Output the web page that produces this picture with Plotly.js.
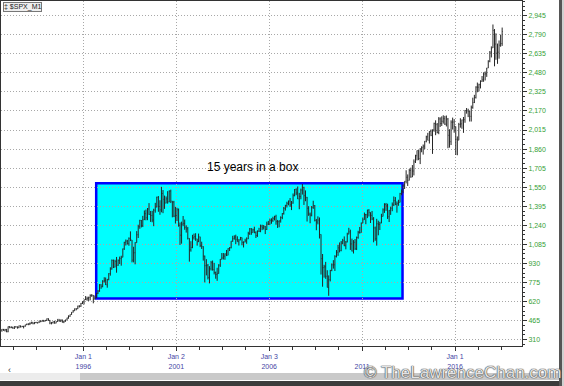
<!DOCTYPE html>
<html>
<head>
<meta charset="utf-8">
<script src="https://cdn.plot.ly/plotly-3.0.1.min.js"></script>
<style>html,body{margin:0;padding:0;background:#fff;}#chart{width:564px;height:386px;}</style>
</head>
<body>
<div id="chart"></div>
<script>
// Monthly S&P 500 bars, Aug 1991 .. Jul 2018
const startYear = 1991, startMonth = 8;
const openP = [
 388,395,388,392,375,
 417,409,413,404,415,415,408,424,414,418,419,431,
 436,439,443,452,440,450,451,448,464,459,468,462,
 467,482,467,446,451,457,444,458,476,463,472,454,
 459,470,487,501,515,533,545,562,562,584,582,605,
 616,636,640,646,654,669,671,640,652,687,705,757,
 741,786,791,757,801,848,885,954,900,947,915,955,
 970,980,1049,1102,1112,1091,1134,1121,957,1017,1099,1164,
 1229,1280,1238,1286,1335,1302,1373,1329,1320,1283,1363,1389,
 1469,1394,1366,1499,1452,1421,1455,1431,1518,1437,1429,1315,
 1320,1366,1240,1160,1250,1256,1224,1211,1134,1041,1060,1139,
 1148,1130,1107,1147,1077,1067,990,912,916,815,886,936,
 880,856,841,848,917,964,975,990,1008,996,1051,1058,
 1112,1131,1145,1126,1107,1121,1141,1102,1104,1115,1130,1174,
 1212,1181,1204,1181,1157,1192,1191,1234,1220,1229,1207,1250,
 1248,1280,1281,1295,1311,1270,1270,1277,1304,1336,1378,1401,
 1418,1438,1407,1421,1482,1531,1503,1455,1474,1527,1549,1481,
 1468,1379,1331,1323,1386,1400,1280,1267,1283,1166,969,896,
 903,826,735,798,873,919,919,987,1021,1057,1036,1096,
 1115,1074,1104,1169,1187,1089,1031,1102,1049,1141,1183,1181,
 1258,1286,1327,1326,1364,1345,1321,1292,1219,1131,1253,1247,
 1258,1312,1366,1409,1398,1310,1362,1379,1407,1441,1412,1416,
 1426,1498,1515,1569,1598,1631,1606,1686,1633,1682,1757,1806,
 1848,1783,1860,1872,1884,1924,1960,1931,2003,1972,2018,2068,
 2059,1995,2105,2068,2086,2107,2063,2104,1972,1920,2079,2080,
 2044,1940,1932,2060,2065,2097,2099,2174,2171,2168,2126,2199,
 2239,2279,2364,2363,2384,2412,2423,2470,2472,2519,2575,2648,
 2683,2824,2714,2641,2648,2705,2718
];
const highP = [
 396,397,398,398,418,
 421,418,414,420,419,418,425,425,423,423,432,441,
 443,450,456,453,455,455,451,464,464,470,469,471,
 483,483,471,453,458,464,459,477,476,474,473,465,
 473,489,508,515,534,552,564,565,587,590,609,622,
 636,665,660,660,679,681,673,670,691,714,762,761,
 794,818,816,804,851,899,963,962,960,983,963,986,
 993,1051,1106,1125,1122,1142,1191,1121,1066,1103,1193,1245,
 1285,1283,1317,1361,1368,1381,1421,1357,1358,1375,1423,1473,
 1478,1444,1553,1527,1482,1475,1518,1525,1530,1437,1439,1390,
 1383,1377,1263,1270,1316,1287,1240,1227,1135,1111,1163,1173,
 1176,1130,1173,1147,1107,1070,994,965,925,908,951,954,
 935,864,895,924,966,1015,1015,1012,1040,1054,1063,1112,
 1155,1159,1164,1151,1128,1146,1141,1109,1131,1142,1188,1218,
 1217,1213,1229,1192,1199,1220,1246,1245,1243,1234,1270,1276,
 1295,1297,1310,1318,1326,1284,1280,1313,1340,1389,1407,1432,
 1441,1462,1438,1499,1535,1541,1556,1504,1539,1576,1553,1524,
 1471,1396,1344,1397,1440,1405,1292,1313,1304,1167,1007,919,
 943,875,833,878,930,957,997,1039,1081,1101,1113,1130,
 1150,1113,1180,1220,1205,1132,1120,1129,1149,1196,1227,1263,
 1303,1344,1333,1367,1371,1346,1357,1307,1230,1293,1278,1269,
 1334,1378,1420,1422,1416,1364,1392,1426,1475,1470,1434,1448,
 1504,1531,1570,1598,1688,1654,1698,1709,1730,1776,1814,1849,
 1851,1868,1883,1897,1925,1969,1992,2005,2019,2019,2075,2094,
 2072,2120,2118,2126,2135,2130,2133,2113,2021,2094,2116,2104,
 2044,1963,2073,2111,2100,2121,2178,2194,2188,2170,2214,2278,
 2301,2371,2401,2392,2419,2454,2484,2491,2520,2582,2657,2695,
 2873,2836,2801,2718,2743,2791,2848
];
const lowP = [
 375,383,377,371,371,
 403,404,400,397,409,400,404,410,413,402,416,430,
 428,429,440,436,437,444,442,446,452,457,454,460,
 463,464,436,435,441,441,444,455,457,454,449,445,
 457,469,481,496,513,531,544,549,559,572,577,600,
 597,633,627,625,630,658,606,638,650,681,700,724,
 737,775,755,733,793,831,880,893,898,855,911,926,
 912,980,1040,1076,1084,1074,1112,939,939,923,1098,1137,
 1212,1223,1226,1283,1281,1282,1325,1268,1265,1233,1343,1386,
 1350,1326,1346,1339,1374,1419,1416,1428,1421,1305,1307,1255,
 1275,1229,1081,1091,1233,1204,1181,1125,945,1026,1054,1124,
 1114,1075,1104,1063,1048,953,776,833,800,768,873,872,
 841,806,789,847,902,963,962,960,990,996,1031,1053,
 1106,1124,1087,1107,1076,1119,1078,1060,1102,1090,1128,1162,
 1163,1181,1176,1137,1146,1188,1184,1201,1206,1169,1202,1244,
 1245,1253,1268,1280,1245,1219,1224,1262,1290,1327,1360,1385,
 1403,1390,1364,1416,1476,1485,1454,1371,1452,1490,1406,1436,
 1271,1317,1257,1313,1374,1272,1200,1248,1133,840,741,815,
 805,735,667,784,867,888,869,979,992,1020,1029,1086,
 1071,1045,1102,1167,1040,1028,1011,1040,1039,1131,1173,1181,
 1257,1285,1249,1299,1312,1259,1282,1102,1114,1075,1159,1202,
 1258,1312,1341,1358,1292,1267,1325,1355,1397,1404,1343,1399,
 1426,1485,1501,1536,1581,1560,1605,1627,1633,1646,1747,1768,
 1770,1738,1834,1815,1860,1915,1931,1905,1965,1821,2001,1973,
 1988,1981,2040,2048,2067,2056,2044,1867,1872,1893,2019,1993,
 1812,1810,1932,2034,2025,1992,2074,2148,2120,2084,2084,2188,
 2234,2271,2322,2329,2353,2406,2407,2418,2447,2519,2566,2605,
 2682,2533,2586,2553,2595,2692,2699
];
const closeP = [
 395,388,392,375,417,
 409,413,404,415,415,408,424,414,418,419,431,436,
 439,443,452,440,450,451,448,464,459,468,462,467,
 482,467,446,451,457,444,458,476,463,472,454,459,
 470,487,501,515,533,545,562,562,584,582,605,616,
 636,640,646,654,669,671,640,652,687,705,757,741,
 786,791,757,801,848,885,954,900,947,915,955,970,
 980,1049,1102,1112,1091,1134,1121,957,1017,1099,1164,1229,
 1280,1238,1286,1335,1302,1373,1329,1320,1283,1363,1389,1469,
 1394,1366,1499,1452,1421,1455,1431,1518,1437,1429,1315,1320,
 1366,1240,1160,1250,1256,1224,1211,1134,1041,1060,1139,1148,
 1130,1107,1147,1077,1067,990,912,916,815,886,936,880,
 856,841,848,917,964,975,990,1008,996,1051,1058,1112,
 1131,1145,1126,1107,1121,1141,1102,1104,1115,1130,1174,1212,
 1181,1204,1181,1157,1192,1191,1234,1220,1229,1207,1250,1248,
 1280,1281,1295,1311,1270,1270,1277,1304,1336,1378,1401,1418,
 1438,1407,1421,1482,1531,1503,1455,1474,1527,1549,1481,1468,
 1379,1331,1323,1386,1400,1280,1267,1283,1166,969,896,903,
 826,735,798,873,919,919,987,1021,1057,1036,1096,1115,
 1074,1104,1169,1187,1089,1031,1102,1049,1141,1183,1181,1258,
 1286,1327,1326,1364,1345,1321,1292,1219,1131,1253,1247,1258,
 1312,1366,1409,1398,1310,1362,1379,1407,1441,1412,1416,1426,
 1498,1515,1569,1598,1631,1606,1686,1633,1682,1757,1806,1848,
 1783,1860,1872,1884,1924,1960,1931,2003,1972,2018,2068,2059,
 1995,2105,2068,2086,2107,2063,2104,1972,1920,2079,2080,2044,
 1940,1932,2060,2065,2097,2099,2174,2171,2168,2126,2199,2239,
 2279,2364,2363,2384,2412,2423,2470,2472,2519,2575,2648,2674,
 2824,2714,2641,2648,2705,2718,2816
];
const yTickVals = [310,465,620,775,930,1085,1240,1395,1550,1705,1860,2015,2170,2325,2480,2635,2790,2945];
const xTickVals = ['1996-01-01','2001-01-01','2006-01-01','2011-01-01','2016-01-01'];
const xTickText = ['Jan 1<br>1996','Jan 2<br>2001','Jan 3<br>2006','\u00a0<br>2011','Jan 1<br>2016'];
const boxX = ['1996-09-10','2013-03-05'];
const boxY = [645, 1583];
const boxLabel = '15 years in a box';
const seriesName = '\u2021 $SPX_M1';
const watermark = '\u00a9 TheLawrenceChan.com';

// month-stamped dates (bars centred mid-month)
const dates = [];
for (let i = 0; i < closeP.length; i++) {
  const m0 = startMonth - 1 + i;
  const y = startYear + Math.floor(m0 / 12);
  const m = (m0 % 12) + 1;
  dates.push(y + '-' + String(m).padStart(2, '0') + '-15');
}

// pixel helpers for paper-referenced decorations (plot area: x 1..522, y 1..346)
const L = 1, R = 522, T = 1, B = 346;
const px = p => (p - L) / (R - L);
const py = p => (B - p) / (B - T);

const trace = {
  type: 'ohlc', x: dates, open: openP, high: highP, low: lowP, close: closeP,
  increasing: {line: {color: '#262626', width: 1}},
  decreasing: {line: {color: '#262626', width: 1}},
  tickwidth: 0.35, hoverinfo: 'skip', showlegend: false
};

const gridDash = '1px,2px';
const layout = {
  width: 564, height: 386,
  margin: {l: L, r: 564 - R, t: T, b: 386 - B, pad: 0},
  paper_bgcolor: '#ffffff', plot_bgcolor: '#ffffff',
  showlegend: false,
  font: {family: 'Liberation Sans, Arial, sans-serif'},
  xaxis: {
    type: 'date', range: ['1991-07-28', '2019-08-09'],
    rangeslider: {visible: false},
    tickmode: 'array', tickvals: xTickVals, ticktext: xTickText,
    ticks: 'outside', ticklen: 4, tickcolor: '#333', tickwidth: 1,
    showgrid: true, gridcolor: '#a8a8a8', griddash: gridDash, gridwidth: 1,
    showline: true, linecolor: '#333', linewidth: 1, mirror: true,
    zeroline: false,
    tickfont: {family: 'Liberation Sans, Arial, sans-serif', size: 7, color: '#4545a5'},
    minor: {dtick: 'M15', tick0: '1996-01-01', ticks: 'outside', ticklen: 3, tickcolor: '#333', showgrid: false},
    fixedrange: true
  },
  yaxis: {
    side: 'right', range: [259, 3064],
    tickmode: 'array', tickvals: yTickVals, tickformat: ',d',
    ticks: 'outside', ticklen: 4, tickcolor: '#333', tickwidth: 1,
    showgrid: true, gridcolor: '#a8a8a8', griddash: gridDash, gridwidth: 1,
    showline: true, linecolor: '#333', linewidth: 1, mirror: true,
    zeroline: false,
    tickfont: {family: 'Liberation Sans, Arial, sans-serif', size: 7, color: '#36a036'},
    minor: {dtick: 38.75, tick0: 310, ticks: 'outside', ticklen: 2, tickcolor: '#333', showgrid: false},
    fixedrange: true
  },
  shapes: [
    {type: 'rect', xref: 'x', yref: 'y', x0: boxX[0], x1: boxX[1], y0: boxY[0], y1: boxY[1],
     fillcolor: '#00ffff', line: {color: '#0000ff', width: 2.5}, layer: 'below'},
    // scrollbar
    {type: 'rect', xref: 'paper', yref: 'paper', x0: px(0), x1: px(80), y0: py(380), y1: py(373),
     fillcolor: '#ececec', line: {width: 0}, layer: 'below'},
    {type: 'rect', xref: 'paper', yref: 'paper', x0: px(80), x1: px(559), y0: py(380), y1: py(373),
     fillcolor: '#c9c9c9', line: {width: 0}, layer: 'below'},
    // window edges
    {type: 'rect', xref: 'paper', yref: 'paper', x0: px(0), x1: px(564), y0: py(386), y1: py(381),
     fillcolor: '#3c3c3c', line: {width: 0}, layer: 'below'},
    {type: 'rect', xref: 'paper', yref: 'paper', x0: px(559), x1: px(562), y0: py(386), y1: py(0),
     fillcolor: '#555555', line: {width: 0}, layer: 'below'},
    {type: 'rect', xref: 'paper', yref: 'paper', x0: px(562), x1: px(564), y0: py(386), y1: py(0),
     fillcolor: '#d0d0d0', line: {width: 0}, layer: 'below'}
  ],
  annotations: [
    {text: boxLabel, xref: 'x', yref: 'y', x: '2005-02-01', y: 1713, showarrow: false,
     font: {family: 'Liberation Sans, Arial, sans-serif', size: 12, color: '#000'}},
    {text: seriesName, xref: 'paper', yref: 'paper', x: px(3), y: py(2), xanchor: 'left', yanchor: 'top',
     showarrow: false, bgcolor: '#eeeeee', bordercolor: '#777', borderwidth: 1, borderpad: 0,
     font: {family: 'Liberation Sans, Arial, sans-serif', size: 7, color: '#222'}},
    {text: '\u2039', xref: 'paper', yref: 'paper', x: px(6), y: py(376.5), showarrow: false,
     font: {size: 9, color: '#333'}},
    {text: watermark, xref: 'paper', yref: 'paper', x: px(362), y: py(372), xanchor: 'left', yanchor: 'middle',
     showarrow: false,
     font: {family: 'Liberation Sans, Arial, sans-serif', size: 17, color: '#e2e2e2',
            shadow: '0 0 1px #505050, 0 0 1px #505050, 0 0 1px #505050'}}
  ]
};

Plotly.newPlot('chart', [trace], layout, {staticPlot: true, displayModeBar: false});
</script>
</body>
</html>
